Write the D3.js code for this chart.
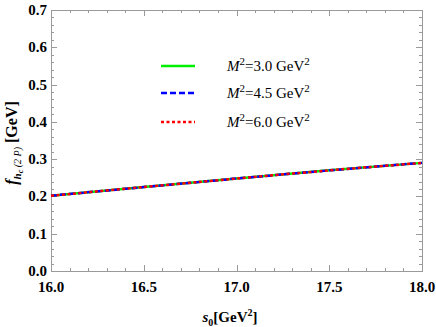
<!DOCTYPE html>
<html>
<head>
<meta charset="utf-8">
<script src="https://cdn.jsdelivr.net/npm/d3@7"></script>
<style>
body { margin: 0; background: #fff; }
svg text { font-family: "Liberation Serif", "Times New Roman", serif; }
</style>
</head>
<body>
<svg width="436" height="327"></svg>
<script>
var svg = d3.select('svg');

// data
var s0Values = [16.0, 16.5, 17.0, 17.5, 18.0];
var fM30 = [0.202, 0.225, 0.248, 0.270, 0.290];
var fM45 = [0.202, 0.225, 0.248, 0.270, 0.290];
var fM60 = [0.202, 0.225, 0.248, 0.270, 0.290];
var seriesLabels = ['3.0', '4.5', '6.0'];
var xTicks = [16.0, 16.5, 17.0, 17.5, 18.0];
var yTicks = [0.0, 0.1, 0.2, 0.3, 0.4, 0.5, 0.6, 0.7];

var plotL = 51, plotR = 422, plotT = 10, plotB = 271;

var x = d3.scaleLinear().domain([16, 18]).range([plotL, plotR]);
var y = d3.scaleLinear().domain([0, 0.7]).range([plotB, plotT]);

var frameColor = '#9a9a9a';

// minor ticks
var xMinor = d3.range(16, 18.0001, 0.1);
var yMinor = d3.range(0, 0.7001, 0.02);

var g = svg.append('g');

function tickLine(x1, y1, x2, y2) {
    g.append('line')
        .attr('x1', x1).attr('y1', y1)
        .attr('x2', x2).attr('y2', y2)
        .attr('stroke', frameColor)
        .attr('stroke-width', 1);
}

xMinor.forEach(function(v){
    var major = xTicks.some(function(t){ return Math.abs(t - v) < 1e-6; });
    var len = major ? 6 : 3;
    var px = Math.round(x(v)) + 0.5;
    tickLine(px, plotB, px, plotB - len);
    tickLine(px, plotT, px, plotT + len);
});

yMinor.forEach(function(v){
    var major = yTicks.some(function(t){ return Math.abs(t - v) < 1e-6; });
    var len = major ? 6 : 3;
    var py = Math.round(y(v)) + 0.5;
    tickLine(plotL, py, plotL + len, py);
    tickLine(plotR, py, plotR - len, py);
});

// frame
svg.append('rect')
    .attr('x', plotL + 0.5).attr('y', plotT + 0.5)
    .attr('width', plotR - plotL).attr('height', plotB - plotT)
    .attr('fill', 'none')
    .attr('stroke', frameColor)
    .attr('stroke-width', 1);

// tick labels
svg.selectAll('.xlab')
    .data(xTicks)
    .enter()
    .append('text')
    .attr('x', function(d){ return x(d); })
    .attr('y', 292)
    .attr('text-anchor', 'middle')
    .attr('font-size', 15)
    .attr('font-weight', 'bold')
    .text(function(d){ return d.toFixed(1); });

svg.selectAll('.ylab')
    .data(yTicks)
    .enter()
    .append('text')
    .attr('x', 47)
    .attr('y', function(d){ return y(d) + 5; })
    .attr('text-anchor', 'end')
    .attr('font-size', 15)
    .attr('font-weight', 'bold')
    .text(function(d){ return d.toFixed(1); });

// lines
var line = d3.line()
    .x(function(d, i){ return x(s0Values[i]); })
    .y(function(d){ return y(d); });

var series = [
    {vals: fM30, color: '#00ee00', dash: null},
    {vals: fM45, color: '#0000ff', dash: '6,3'},
    {vals: fM60, color: '#ff0000', dash: '3,2.5'}
];

series.forEach(function(s){
    svg.append('path')
        .attr('d', line(s.vals))
        .attr('fill', 'none')
        .attr('stroke', s.color)
        .attr('stroke-width', 2.5)
        .attr('stroke-dasharray', s.dash);
});

// legend
var legendY = [66, 93, 122];
series.forEach(function(s, i){
    svg.append('line')
        .attr('x1', 161).attr('x2', 195)
        .attr('y1', legendY[i]).attr('y2', legendY[i])
        .attr('stroke', s.color)
        .attr('stroke-width', 2.5)
        .attr('stroke-dasharray', s.dash);
    var t = svg.append('text')
        .attr('x', 227)
        .attr('y', legendY[i] + 5)
        .attr('font-size', 15);
    t.append('tspan').attr('font-style', 'italic').text('M');
    t.append('tspan').attr('font-size', 11).attr('dy', -6).text('2');
    t.append('tspan').attr('dy', 6).text('=' + seriesLabels[i] + ' GeV');
    t.append('tspan').attr('font-size', 11).attr('dy', -6).text('2');
});

// x axis title
var xt = svg.append('text')
    .attr('x', 230)
    .attr('y', 322)
    .attr('text-anchor', 'middle')
    .attr('font-size', 15)
    .attr('font-weight', 'bold');
xt.append('tspan').attr('font-style', 'italic').text('s');
xt.append('tspan').attr('font-size', 10).attr('dy', 4).text('0');
xt.append('tspan').attr('dy', -4).text('[GeV');
xt.append('tspan').attr('font-size', 10).attr('dy', -6).text('2');
xt.append('tspan').attr('dy', 6).text(']');

// y axis title
var yt = svg.append('text')
    .attr('transform', 'translate(17,143) rotate(-90)')
    .attr('text-anchor', 'middle')
    .attr('font-size', 16)
    .attr('font-weight', 'bold');
yt.append('tspan').attr('font-style', 'italic').text('f');
yt.append('tspan').attr('font-style', 'italic').attr('font-size', 11).attr('dy', 4).text('h');
yt.append('tspan').attr('font-style', 'italic').attr('font-size', 8).attr('dy', 2).text('c');
yt.append('tspan').attr('font-style', 'italic').attr('font-weight', 'normal').attr('font-size', 10).attr('dy', -2).text(' (2 P)');
yt.append('tspan').attr('dy', -4).text(' [GeV]');
</script>
</body>
</html>
